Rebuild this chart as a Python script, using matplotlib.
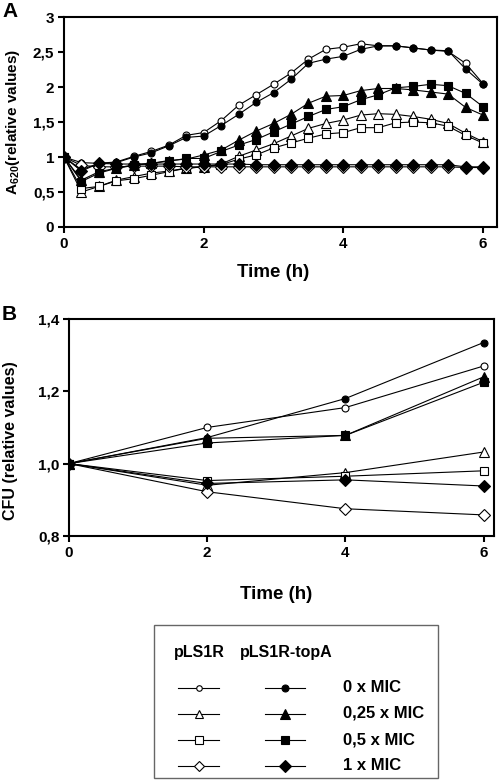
import matplotlib
matplotlib.use("Agg")
import matplotlib.pyplot as plt
from matplotlib.lines import Line2D
from matplotlib.patches import Rectangle

plt.rcParams['font.family'] = ['Liberation Sans', 'DejaVu Sans']
plt.rcParams['font.weight'] = 'bold'
plt.rcParams['mathtext.fontset'] = 'custom'
plt.rcParams['mathtext.rm'] = 'Liberation Sans:bold'
plt.rcParams['mathtext.bf'] = 'Liberation Sans:bold'

# ---------------- data ----------------
time_a = [0, 0.25, 0.5, 0.75, 1.0, 1.25, 1.5, 1.75, 2.0, 2.25, 2.5, 2.75, 3.0,
          3.25, 3.5, 3.75, 4.0, 4.25, 4.5, 4.75, 5.0, 5.25, 5.5, 5.75, 6.0]

a_pls_0 = [1.00, 0.92, 0.91, 0.93, 1.01, 1.08, 1.17, 1.31, 1.35, 1.52, 1.74, 1.89, 2.04,
           2.20, 2.40, 2.54, 2.57, 2.62, 2.59, 2.59, 2.56, 2.53, 2.51, 2.34, 2.05]
a_top_0 = [1.00, 0.82, 0.91, 0.92, 1.00, 1.06, 1.16, 1.28, 1.30, 1.45, 1.61, 1.78, 1.92,
           2.11, 2.34, 2.40, 2.44, 2.54, 2.59, 2.59, 2.56, 2.53, 2.52, 2.26, 2.04]
a_pls_025 = [1.00, 0.50, 0.58, 0.67, 0.72, 0.77, 0.80, 0.84, 0.86, 0.90, 1.01, 1.10, 1.19,
             1.30, 1.41, 1.48, 1.53, 1.60, 1.62, 1.61, 1.58, 1.54, 1.48, 1.34, 1.22]
a_top_025 = [1.00, 0.67, 0.79, 0.84, 0.88, 0.91, 0.95, 0.97, 1.03, 1.10, 1.24, 1.37, 1.48,
             1.61, 1.77, 1.87, 1.88, 1.95, 1.98, 1.98, 1.96, 1.93, 1.90, 1.71, 1.60]
a_pls_05 = [1.00, 0.55, 0.58, 0.66, 0.69, 0.74, 0.79, 0.84, 0.86, 0.89, 0.97, 1.03, 1.13,
            1.20, 1.27, 1.33, 1.35, 1.42, 1.42, 1.49, 1.50, 1.49, 1.44, 1.31, 1.20]
a_top_05 = [1.00, 0.65, 0.77, 0.84, 0.89, 0.91, 0.94, 0.98, 0.98, 1.08, 1.17, 1.25, 1.36,
            1.47, 1.58, 1.68, 1.72, 1.82, 1.89, 1.99, 2.01, 2.04, 2.02, 1.91, 1.72]
a_pls_1 = [1.00, 0.88, 0.86, 0.86, 0.87, 0.87, 0.87, 0.86, 0.86, 0.86, 0.86, 0.86, 0.86,
           0.86, 0.86, 0.86, 0.86, 0.86, 0.86, 0.86, 0.86, 0.86, 0.86, 0.85, 0.85]
a_top_1 = [1.00, 0.80, 0.91, 0.90, 0.90, 0.90, 0.90, 0.90, 0.90, 0.90, 0.90, 0.89, 0.89,
           0.89, 0.89, 0.89, 0.89, 0.89, 0.89, 0.89, 0.89, 0.89, 0.89, 0.86, 0.86]

time_b = [0, 2, 4, 6]
b_pls_0 = [1.0, 1.100, 1.155, 1.270]
b_top_0 = [1.0, 1.072, 1.180, 1.335]
b_pls_025 = [1.0, 0.940, 0.975, 1.032]
b_top_025 = [1.0, 1.070, 1.078, 1.240]
b_pls_05 = [1.0, 0.953, 0.965, 0.980]
b_top_05 = [1.0, 1.057, 1.078, 1.225]
b_pls_1 = [1.0, 0.922, 0.875, 0.858]
b_top_1 = [1.0, 0.945, 0.955, 0.938]

a_yticks = [0, 0.5, 1, 1.5, 2, 2.5, 3]
a_yticklabels = ["0", "0,5", "1", "1,5", "2", "2,5", "3"]
b_yticks = [0.8, 1.0, 1.2, 1.4]
b_yticklabels = ["0,8", "1,0", "1,2", "1,4"]
xticks = [0, 2, 4, 6]
xticklabels = ["0", "2", "4", "6"]

conc_labels = ["0 x MIC", "0,25 x MIC", "0,5 x MIC", "1 x MIC"]
strain_labels = ["pLS1R", "pLS1R-topA"]

# ---------------- styles ----------------
markers = ['o', '^', 's', 'D']
msizes = [5.0, 6.5, 6.0, 6.0]
LW = 0.8
TICK_FS = 11

fig = plt.figure(figsize=(5.0, 7.8), dpi=100)

def style_axes(ax, yt, ytl, ylim, xlim):
    ax.set_xlim(*xlim)
    ax.set_ylim(*ylim)
    ax.set_xticks(xticks)
    ax.set_xticklabels(xticklabels)
    ax.set_yticks(yt)
    ax.set_yticklabels(ytl)
    for s in ax.spines.values():
        s.set_linewidth(1.5)
    ax.tick_params(axis='both', direction='out', length=4, width=1.5,
                   labelsize=TICK_FS, pad=3)
    for lab in ax.get_xticklabels() + ax.get_yticklabels():
        lab.set_fontweight('bold')

def plot_set(ax, t, pls, top):
    for i in range(4):
        ax.plot(t, pls[i], color='black', lw=LW, marker=markers[i], ms=msizes[i],
                mfc='white', mec='black', mew=0.8, zorder=3)
    for i in range(4):
        ax.plot(t, top[i], color='black', lw=LW, marker=markers[i], ms=msizes[i],
                mfc='black', mec='black', mew=0.8, zorder=4)

# Panel A
axA = fig.add_axes([0.128, 0.709, 0.866, 0.269])
plot_set(axA, time_a,
         [a_pls_0, a_pls_025, a_pls_05, a_pls_1],
         [a_top_0, a_top_025, a_top_05, a_top_1])
style_axes(axA, a_yticks, a_yticklabels, (0, 3), (0, 6.2))
axA.set_xlabel("Time (h)", fontsize=13.5, fontweight='bold')
axA.xaxis.set_label_coords(3 / 6.2, -0.175)
axA.set_ylabel(r"A$_{\mathbf{620}}$(relative values)", fontsize=11, fontweight='bold')
axA.yaxis.set_label_coords(-0.097, 0.5)
fig.text(0.004, 0.985, "A", fontsize=15, fontweight='bold', va='center', ha='left')

# Panel B
axB = fig.add_axes([0.138, 0.313, 0.85, 0.278])
plot_set(axB, time_b,
         [b_pls_0, b_pls_025, b_pls_05, b_pls_1],
         [b_top_0, b_top_025, b_top_05, b_top_1])
style_axes(axB, b_yticks, b_yticklabels, (0.8, 1.4), (0, 6.15))
axB.set_xlabel("Time (h)", fontsize=13.5, fontweight='bold')
axB.xaxis.set_label_coords(3 / 6.15, -0.23)
axB.set_ylabel("CFU (relative values)", fontsize=11.5, fontweight='bold')
axB.yaxis.set_label_coords(-0.12, 0.44)
fig.text(0.004, 0.597, "B", fontsize=15, fontweight='bold', va='center', ha='left')

# Legend panel (layout in figure-pixel-like axes coordinates)
axL = fig.add_axes([0, 0, 1, 1], facecolor='none')
axL.set_xlim(0, 500)
axL.set_ylim(780, 0)
axL.axis('off')
axL.add_patch(Rectangle((153.5, 625), 284, 153, fill=False, ec='#666666', lw=1.0))
axL.text(199, 652, strain_labels[0], fontsize=11.5, fontweight='bold', ha='center', va='center')
axL.text(286, 652, strain_labels[1], fontsize=11.5, fontweight='bold', ha='center', va='center')
rows_y = [688.0, 713.5, 740.0, 765.5]
leg_ms_open = [4.0, 6.0, 5.5, 5.5]
leg_ms_fill = [5.0, 6.5, 6.0, 6.0]
for i in range(4):
    y = rows_y[i]
    axL.add_line(Line2D([178, 219], [y, y], color='black', lw=LW))
    axL.add_line(Line2D([198.5], [y], marker=markers[i], ms=leg_ms_open[i],
                        mfc='white', mec='black', mew=0.8, ls='none'))
    axL.add_line(Line2D([265, 305], [y, y], color='black', lw=LW))
    axL.add_line(Line2D([285], [y], marker=markers[i], ms=leg_ms_fill[i],
                        mfc='black', mec='black', mew=0.8, ls='none'))
    axL.text(343, y, conc_labels[i], fontsize=12, fontweight='bold', ha='left', va='center')

fig.savefig("out.png", dpi=100)
